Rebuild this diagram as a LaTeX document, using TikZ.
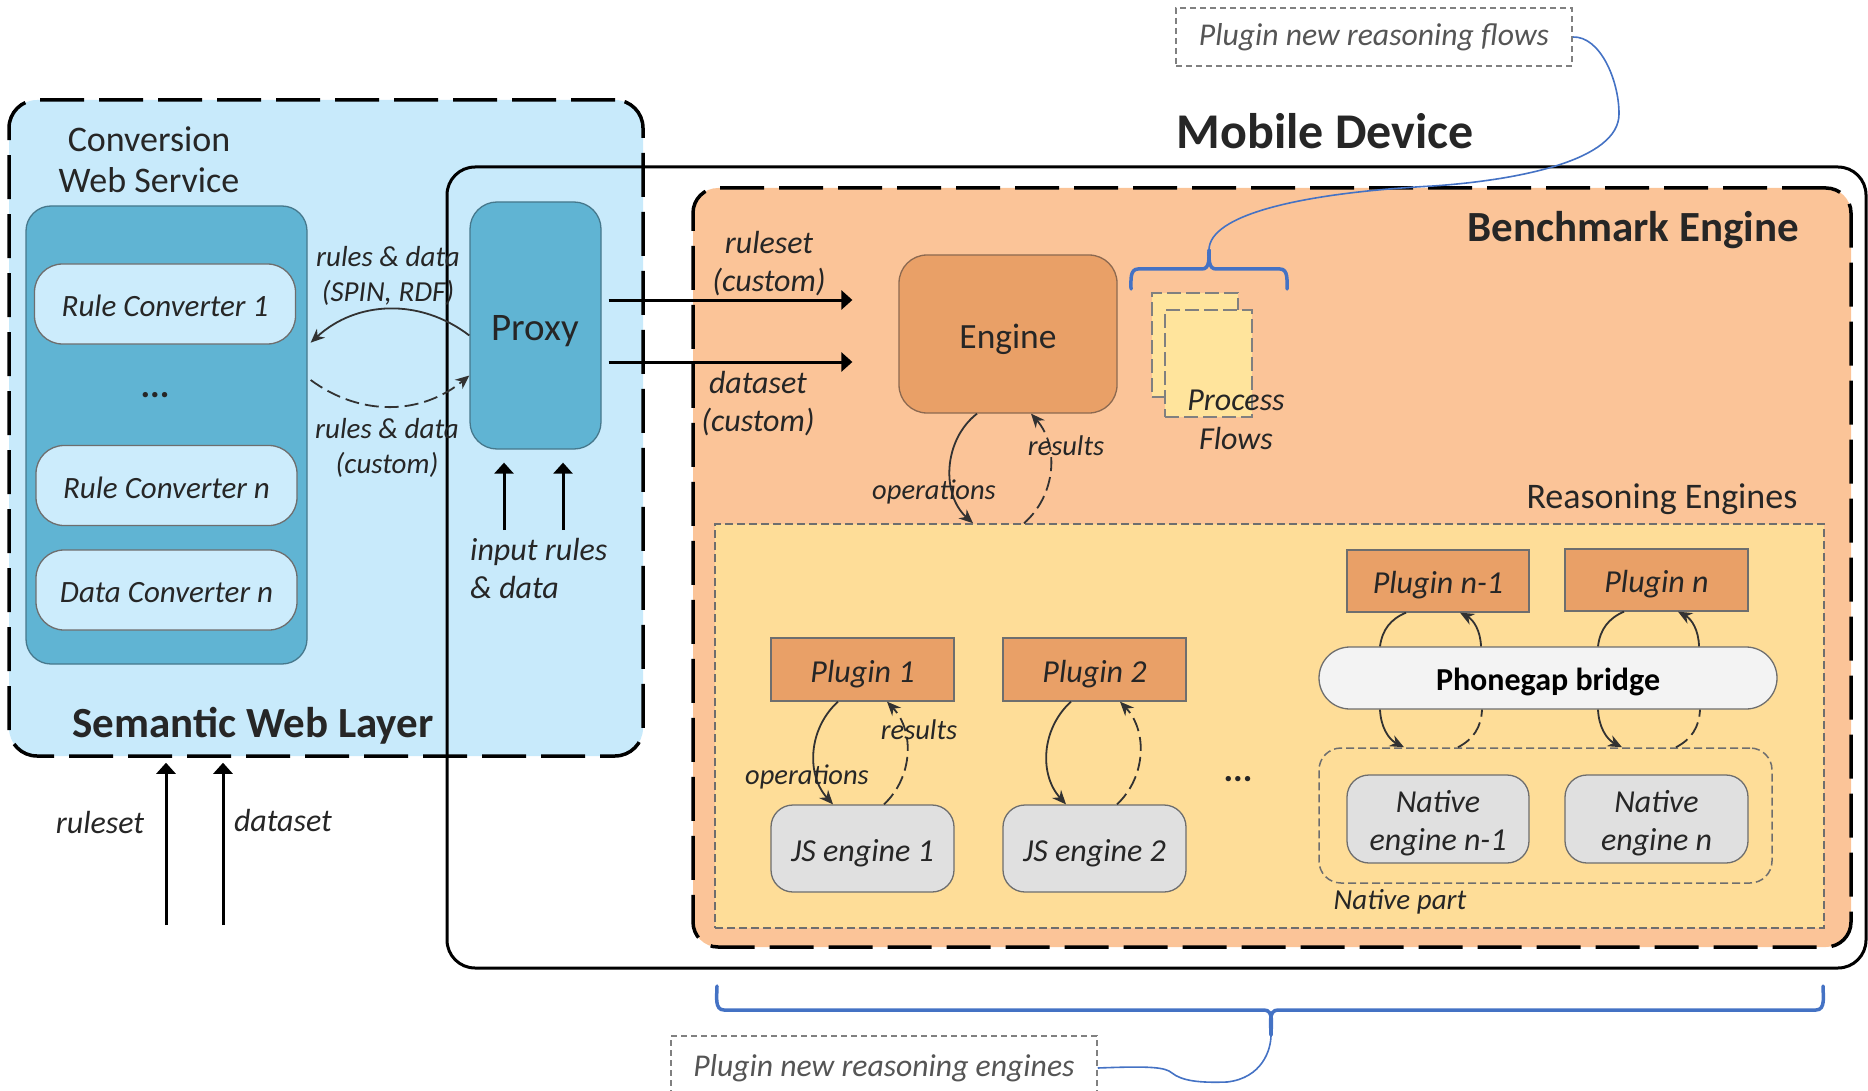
\documentclass[tikz,border=0pt]{standalone}
\usepackage{fontspec}
\setmainfont{Carlito}
\usetikzlibrary{arrows.meta,calc}
\definecolor{swlblue}{RGB}{200,234,251}
\definecolor{aqua}{RGB}{96,180,211}
\definecolor{aquaedge}{RGB}{70,120,140}
\definecolor{rcblue}{RGB}{204,236,252}
\definecolor{peach}{RGB}{251,196,152}
\definecolor{ryellow}{RGB}{254,221,152}
\definecolor{orng}{RGB}{233,160,103}
\definecolor{orngedge}{RGB}{140,105,80}
\definecolor{jsgray}{RGB}{224,224,224}
\definecolor{pfyellow}{RGB}{255,228,156}
\definecolor{bridgegray}{RGB}{243,243,243}
\definecolor{braceblue}{RGB}{68,114,196}
\definecolor{txt}{RGB}{38,38,38}
\definecolor{notetxt}{RGB}{85,85,85}
\definecolor{edgegray}{RGB}{110,110,110}
\definecolor{loopgray}{RGB}{50,50,50}
\tikzset{
  every node/.style={inner sep=0pt, text=txt},
  bigdash/.style={draw=black, line width=3.5pt, dash pattern=on 44pt off 15pt},
  thindash/.style={draw=edgegray, line width=1.5pt, dash pattern=on 8pt off 4pt},
  bigarrow/.style={draw=black, line width=3pt, -{Triangle[length=11pt,width=19pt]}},
  loopline/.style={draw=loopgray, line width=1.8pt},
  looparrow/.style={loopline, -{Stealth[length=14pt,width=12pt]}},
  loopdash/.style={loopline, dash pattern=on 14pt off 6pt},
  notebox/.style={draw=gray, line width=1.5pt, dash pattern=on 6pt off 4pt, font=\fontsize{31.7}{38}\selectfont\itshape, text=notetxt},
  bracestyle/.style={draw=braceblue, line width=3.5pt, line cap=round},
  bracelink/.style={draw=braceblue, line width=1.6pt},
  lbl/.style={font=\fontsize{32}{38}\selectfont\itshape},
  smalllbl/.style={font=\fontsize{28.5}{34}\selectfont\itshape},
  boxtext/.style={text height=25pt, text depth=0pt},
  rcbox/.style={boxtext, fill=rcblue, draw=edgegray, line width=1.3pt, rounded corners=28pt, minimum width=261pt, minimum height=80pt, font=\fontsize{31}{37}\selectfont\itshape},
  plug/.style={boxtext, fill=orng, draw=edgegray, line width=1.3pt, minimum width=183pt, minimum height=63pt, font=\fontsize{32}{38}\selectfont\itshape},
  jsbox/.style={fill=jsgray, draw=edgegray, line width=1.3pt, rounded corners=22pt, minimum width=183pt, minimum height=87pt, font=\fontsize{32}{38}\selectfont\itshape},
  pfbox/.style={fill=pfyellow, draw=gray, line width=2.5pt, dash pattern=on 14pt off 5pt},
}
\begin{document}
\begin{tikzpicture}[x=1pt,y=-1pt]
\useasboundingbox (0,0) rectangle (1868,1091);

% containers
\node[fill=swlblue, bigdash, rounded corners=28pt, minimum width=634pt, minimum height=656pt] (swl) at (326,428) {};
\node[draw=black, line width=3pt, rounded corners=28pt, minimum width=1419pt, minimum height=801pt] (mobile) at (1156.5,567.5) {};
\node[fill=peach, bigdash, rounded corners=25pt, minimum width=1158pt, minimum height=759pt] (bench) at (1272,567.5) {};
\node[fill=ryellow, thindash, minimum width=1109pt, minimum height=404pt] (reasoning) at (1269.5,726) {};

% semantic web layer
\node[font=\fontsize{36}{41}\selectfont, align=center] (cwslbl) at (149,159.5) {Conversion\\Web Service};
\node[fill=aqua, draw=aquaedge, line width=1.3pt, rounded corners=25pt, minimum width=281pt, minimum height=458pt] (conv) at (166.5,435) {};
\node[rcbox] (rc1) at (165,304) {Rule Converter 1};
\node[font=\fontsize{36}{40}\selectfont\bfseries] (cdots) at (155,395) {...};
\node[rcbox] (rcn) at (166.5,485.5) {Rule Converter n};
\node[rcbox] (dcn) at (166.5,590) {Data Converter n};
\node[font=\fontsize{43}{48}\selectfont\bfseries, anchor=base] (swllbl) at (253,737) {Semantic Web Layer};

\node[fill=aqua, draw=aquaedge, line width=1.3pt, rounded corners=27pt, minimum width=131pt, minimum height=247pt, font=\fontsize{39}{44}\selectfont, text height=30pt, text depth=0pt] (proxy) at (535.5,325.5) {Proxy};

\node[font=\fontsize{29}{35}\selectfont\itshape, align=center] (rdspin) at (388,276) {rules \& data\\(SPIN, RDF)};
\node[font=\fontsize{29}{35}\selectfont\itshape, align=center] (rdcust) at (387,448) {rules \& data\\(custom)};
\node[lbl, align=left, anchor=west] (inlbl) at (470,569) {input rules\\\& data};

\draw[looparrow] ($(proxy.west)+(0,10)$) to[bend right=40] ($(conv.east |- rc1.south)+(3,-2)$);
\draw[loopdash, -{Stealth[length=14pt,width=12pt]}] ($(conv.east)+(3,-55)$) to[bend right=38] ($(proxy.west)+(0,50)$);

\coordinate (in1) at (504,530);
\coordinate (in2) at (563,530);
\draw[bigarrow] (in1) -- ($(in1 |- proxy.south)+(0,13)$);
\draw[bigarrow] (in2) -- ($(in2 |- proxy.south)+(0,13)$);

\coordinate (rsin) at (166,925);
\coordinate (dsin) at (223,925);
\draw[bigarrow] (rsin) -- ($(rsin |- swl.south)+(0,5)$);
\draw[bigarrow] (dsin) -- ($(dsin |- swl.south)+(0,5)$);
\node[lbl, anchor=base] (rslbl) at (100,833) {ruleset};
\node[lbl, anchor=base] (dslbl) at (283,831) {dataset};

% mobile device / benchmark
\node[font=\fontsize{50}{56}\selectfont\bfseries, anchor=base] (mdlbl) at (1325,149) {Mobile Device};
\node[font=\fontsize{43}{48}\selectfont\bfseries, anchor=base] (belbl) at (1633,241.5) {Benchmark Engine};

\node[fill=orng, draw=orngedge, line width=1.3pt, rounded corners=28pt, minimum width=218pt, minimum height=158pt, font=\fontsize{35.5}{40}\selectfont, text height=28pt, text depth=0pt] (engine) at (1008,334) {Engine};

\node[lbl, align=center] (rscust) at (769,264) {ruleset\\(custom)};
\node[lbl, align=center] (dscust) at (758,403.5) {dataset\\(custom)};
\draw[bigarrow] ($(proxy.east)+(7,-25.5)$) -- ($(engine.west)+(-46,-34)$);
\draw[bigarrow] ($(proxy.east)+(7,36.5)$) -- ($(engine.west)+(-46,28)$);

\node[pfbox, minimum width=86pt, minimum height=104pt] (pfback) at (1195,345) {};
\node[pfbox, minimum width=87pt, minimum height=107pt] (pffront) at (1208.5,363.5) {};
\node[align=center, font=\fontsize{32}{39}\selectfont\itshape] (pflbl) at (1236,419.5) {Process\\Flows};

\node[font=\fontsize{36}{41}\selectfont, anchor=base] (relbl) at (1662,508) {Reasoning Engines};

\draw[looparrow] ($(engine.south)+(-31,0)$) to[bend right=50] ($(reasoning.north -| engine.south)+(-35,0)$);
\draw[loopdash, -{Stealth[length=14pt,width=12pt]}] ($(reasoning.north -| engine.south)+(16,0)$) to[bend right=45] ($(engine.south)+(23,0)$);
\node[smalllbl, anchor=base] (reslbl) at (1066,455) {results};
\node[smalllbl, anchor=base] (opslbl) at (934,499) {operations};

% JS plugins
\node[plug] (plugin1) at (862.5,669.5) {Plugin 1};
\node[plug] (plugin2) at (1094.5,669.5) {Plugin 2};
\node[jsbox, boxtext] (js1) at (862.5,848.5) {JS engine 1};
\node[jsbox, boxtext] (js2) at (1094.5,848.5) {JS engine 2};
\draw[looparrow] ($(plugin1.south)+(-24.5,0)$) to[bend right=45] ($(js1.north)+(-29.5,0)$);
\draw[loopdash, -{Stealth[length=14pt,width=12pt]}] ($(js1.north)+(21.5,0)$) to[bend right=45] ($(plugin1.south)+(24.5,0)$);
\draw[looparrow] ($(plugin2.south)+(-23.5,0)$) to[bend right=45] ($(js2.north)+(-28.5,0)$);
\draw[loopdash, -{Stealth[length=14pt,width=12pt]}] ($(js2.north)+(22.5,0)$) to[bend right=45] ($(plugin2.south)+(25.5,0)$);
\node[smalllbl, anchor=base] (reslbl1) at (919,739) {results};
\node[smalllbl, anchor=base] (opslbl1) at (807,784) {operations};
\node[font=\fontsize{36}{40}\selectfont\bfseries] (rdots) at (1238,779) {...};

% native plugins
\node[plug, minimum width=182pt, minimum height=62pt] (pluginn1) at (1438,581) {Plugin n-1};
\node[plug, minimum height=62pt] (pluginn) at (1656.5,580) {Plugin n};
\node[fill=bridgegray, draw=edgegray, line width=1.3pt, rounded corners=31pt, minimum width=458pt, minimum height=62pt, font=\fontsize{32}{38}\selectfont\bfseries, text=black, boxtext] (bridge) at (1548,678) {Phonegap bridge};
\node[thindash, rounded corners=22pt, minimum width=453pt, minimum height=135pt] (nativepart) at (1545.5,815.5) {};
\node[jsbox, minimum width=182pt, minimum height=88pt] (nen1) at (1438,819) {};
\node[jsbox, minimum width=183pt, minimum height=88pt] (nen) at (1656.5,819) {};
\node[lbl, align=center] (nen1t) at ($(nen1)+(0,4.5)$) {Native\\engine n-1};
\node[lbl, align=center] (nent) at ($(nen)+(0,4.5)$) {Native\\engine n};
\node[font=\fontsize{29}{34}\selectfont\itshape, anchor=base] (nplbl) at (1400,909) {Native part};

\draw[loopline] ($(pluginn1.south)+(-32,0)$) to[bend right=30] ($(bridge.north)+(-168,0)$);
\draw[looparrow] ($(bridge.south)+(-168,0)$) to[bend right=30] ($(nativepart.north)+(-141.5,0)$);
\draw[loopdash] ($(nativepart.north)+(-87.5,0)$) to[bend right=30] ($(bridge.south)+(-66,0)$);
\draw[looparrow] ($(bridge.north)+(-67,0)$) to[bend right=30] ($(pluginn1.south)+(22,0)$);

\draw[loopline] ($(pluginn.south)+(-32.5,0)$) to[bend right=30] ($(bridge.north)+(50,0)$);
\draw[looparrow] ($(bridge.south)+(50,0)$) to[bend right=30] ($(nativepart.north)+(76.5,0)$);
\draw[loopdash] ($(nativepart.north)+(130.5,0)$) to[bend right=30] ($(bridge.south)+(152,0)$);
\draw[looparrow] ($(bridge.north)+(151,0)$) to[bend right=30] ($(pluginn.south)+(21.5,0)$);

% annotations
\node[notebox, minimum width=396pt, minimum height=58pt] (flowsnote) at (1374,37) {Plugin new reasoning flows};
\node[notebox, minimum width=426pt, minimum height=64pt] (enginesnote) at (884,1068) {Plugin new reasoning engines};

\coordinate (ftip) at (1209,250);
\draw[bracestyle] (1131,289) to[out=90,in=180] (1138,269) -- (1202,269) to[out=0,in=-90] (ftip);
\draw[bracestyle] (1287,289) to[out=90,in=0] (1280,269) -- (1216,269) to[out=180,in=-90] (ftip);
\draw[bracelink] (flowsnote.east) .. controls (1600,36) and (1619,80) .. (1619,114)
  .. controls (1619,160) and (1520,180) .. (1433,186)
  .. controls (1300,193) and (1209,215) .. (ftip);

\coordinate (etip) at (1271,1035);
\draw[bracestyle] (717,986) to[out=-90,in=180] (724,1010) -- (1264,1010) to[out=0,in=90] (etip);
\draw[bracestyle] (1823,986) to[out=-90,in=0] (1816,1010) -- (1278,1010) to[out=180,in=90] (etip);
\draw[bracelink] (enginesnote.east) .. controls (1150,1066) and (1165,1067) .. (1172,1073)
  .. controls (1182,1081) and (1200,1083) .. (1227,1082)
  .. controls (1262,1078) and (1271,1050) .. (etip);
\end{tikzpicture}
\end{document}
